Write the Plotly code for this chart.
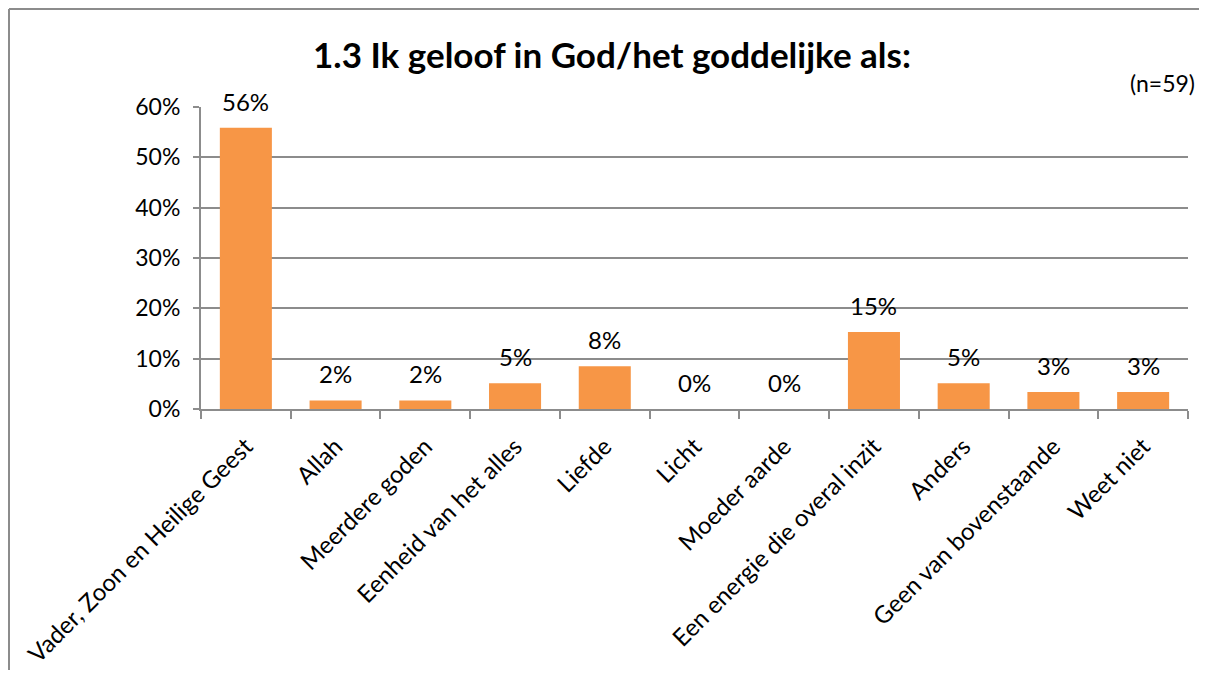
import plotly.graph_objects as go

categories = [
    "Vader, Zoon en Heilige Geest",
    "Allah",
    "Meerdere goden",
    "Eenheid van het alles",
    "Liefde",
    "Licht",
    "Moeder aarde",
    "Een energie die overal inzit",
    "Anders",
    "Geen van bovenstaande",
    "Weet niet",
]
shares = [0.559, 0.017, 0.017, 0.051, 0.085, 0.0, 0.0, 0.153, 0.051, 0.034, 0.034]
labels = [f"{v:.0%}" for v in shares]

# the page body has an 8px margin on every side; keep the figure a little
# inside the window so no scrollbars appear
OFF = 8
W, H = 1213 - 2 * OFF - 6, 684 - 2 * OFF - 6
L, R, T, B = 201 - OFF, 1188 - OFF, 107 - OFF, 409 - OFF
pw, ph = R - L, B - T


def px_x(x):
    return (x - OFF - L) / pw


def px_y(y):
    return (B - (y - OFF)) / ph


FONT = "Lato, 'Open Sans', sans-serif"
GRID = "#8c8c8c"

fig = go.Figure(
    go.Bar(
        x=categories,
        y=shares,
        marker=dict(color="#F79646", line=dict(width=0)),
        hovertemplate="%{x}: %{y:.1%}<extra></extra>",
    )
)

for c, v, t in zip(categories, shares, labels):
    fig.add_annotation(
        x=c, y=v, text=t, showarrow=False,
        yanchor="bottom", yshift=10,
        font=dict(size=24, family=FONT, color="#000000"),
    )

fig.update_layout(
    width=W,
    height=H,
    paper_bgcolor="white",
    plot_bgcolor="white",
    margin=dict(l=L, r=W - R, t=T, b=H - B, autoexpand=False),
    bargap=0.42,
    showlegend=False,
    font=dict(family=FONT, color="#000000"),
    title=dict(
        text="<b>1.3 Ik geloof in God/het goddelijke als:</b>",
        x=(612 - OFF) / W,
        xanchor="center",
        y=1 - (56 - OFF) / H,
        yanchor="middle",
        font=dict(size=35, family=FONT, color="#000000"),
    ),
    xaxis=dict(
        type="category",
        tickangle=-45,
        tickfont=dict(size=24, family=FONT),
        ticklabelstandoff=12,
        showline=True,
        linecolor=GRID,
        linewidth=2,
        ticks="outside",
        tickson="boundaries",
        ticklen=8,
        tickcolor=GRID,
        tickwidth=2,
        showgrid=False,
        automargin=False,
    ),
    yaxis=dict(
        range=[0, 0.6],
        dtick=0.1,
        tickformat=".0%",
        tickfont=dict(size=23, family=FONT),
        ticklabelstandoff=8,
        showline=True,
        linecolor=GRID,
        linewidth=2,
        ticks="outside",
        ticklen=6,
        tickcolor=GRID,
        tickwidth=2,
        showgrid=True,
        gridcolor=GRID,
        gridwidth=1.5,
        zeroline=False,
        automargin=False,
    ),
)

fig.add_annotation(
    text="(n=59)",
    xref="paper",
    yref="paper",
    x=px_x(1197),
    y=px_y(83),
    xanchor="right",
    yanchor="middle",
    showarrow=False,
    font=dict(size=23, family=FONT, color="#000000"),
)

# outer chart border: only its top and left edges fall inside the picture
border = dict(color="#8c8c8c", width=2)
fig.add_shape(type="line", xref="paper", yref="paper",
              x0=px_x(9), x1=px_x(1213), y0=px_y(9), y1=px_y(9), line=border)
fig.add_shape(type="line", xref="paper", yref="paper",
              x0=px_x(9), x1=px_x(9), y0=px_y(9), y1=px_y(684), line=border)

fig.write_html("out.html")
